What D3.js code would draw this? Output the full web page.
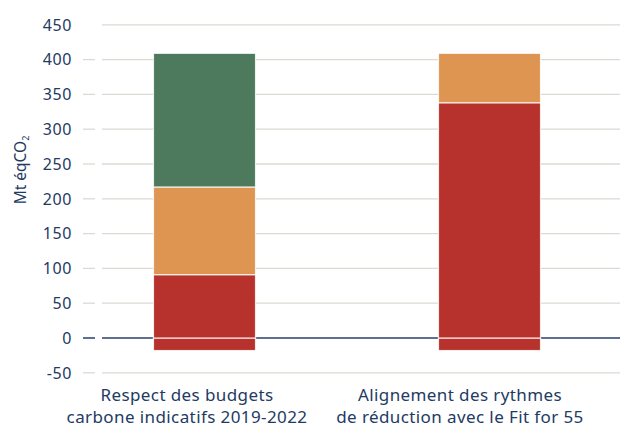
<!DOCTYPE html>
<html>
<head>
<meta charset="utf-8">
<script src="https://cdn.jsdelivr.net/npm/d3@7"></script>
<style>
	body { margin: 0; background: #fff; }
	text { font-family: "Noto Sans", "Open Sans", sans-serif; fill: #233a63; }
</style>
</head>
<body>
<svg id="chart" width="621" height="427"></svg>
<script>
// chart data
var categories = [
	['Respect des budgets', 'carbone indicatifs 2019-2022']
	, ['Alignement des rythmes', 'de réduction avec le Fit for 55']
]
var negativeRed = [-18, -18]
var redValues = [91, 338]
var orangeValues = [126, 71]
var greenValues = [192, 0]
var yTicks = [-50, 0, 50, 100, 150, 200, 250, 300, 350, 400, 450]

var colors = { red: '#b8322d', orange: '#de9551', green: '#4d7a5c' }

var svg = d3.select('#chart')
	, gridLeft = 102
	, gridRight = 620

var y = d3.scaleLinear()
	.domain([-50, 450])
	.range([372.8, 24.8])

var x = d3.scaleBand()
	.domain(d3.range(categories.length))
	.range([62, 632])
	.paddingInner(0.642)
	.paddingOuter(0.321)

// labels sit a bit left of the bars in the original
var xLabel = d3.scaleBand()
	.domain(d3.range(categories.length))
	.range([50.5, 596.5])

// gridlines + small ticks
yTicks.forEach(function(t) {
	var zero = t === 0
	svg.append('line')
		.attr('x1', gridLeft).attr('x2', gridRight)
		.attr('y1', y(t)).attr('y2', y(t))
		.attr('stroke', zero ? '#2a3f6b' : '#dcdad2')
		.attr('stroke-width', zero ? 1.5 : 1.3)
	if (t !== 450) {
		svg.append('line')
			.attr('x1', 83).attr('x2', 95)
			.attr('y1', y(t)).attr('y2', y(t))
			.attr('stroke', zero ? '#2a3f6b' : '#dcdad2')
			.attr('stroke-width', zero ? 1.5 : 1.3)
	}
	svg.append('text')
		.attr('x', 72)
		.attr('y', y(t))
		.attr('dy', '0.36em')
		.attr('text-anchor', 'end')
		.style('font-size', '16px')
		.style('letter-spacing', '0.6px')
		.text(t)
})

// stacked segments
var segments = []
categories.forEach(function(c, i) {
	segments.push({ i: i, y0: negativeRed[i], y1: 0, color: colors.red })
	var base = 0
	;[[redValues, colors.red], [orangeValues, colors.orange], [greenValues, colors.green]].forEach(function(s) {
		var v = s[0][i]
		if (v > 0) {
			segments.push({ i: i, y0: base, y1: base + v, color: s[1] })
			base += v
		}
	})
})

svg.selectAll('.seg').data(segments)
  .enter()
	.append('rect')
	.attr('class', 'seg')
	.attr('x', function(d) { return x(d.i) })
	.attr('width', x.bandwidth())
	.attr('y', function(d) { return y(d.y1) })
	.attr('height', function(d) { return y(d.y0) - y(d.y1) })
	.attr('fill', function(d) { return d.color })
	.attr('stroke', '#fff')
	.attr('stroke-opacity', 0.8)
	.attr('stroke-width', 1.2)

// category labels
categories.forEach(function(lines, i) {
	var t = svg.append('text')
		.attr('text-anchor', 'middle')
		.style('font-size', '17px')
		.style('letter-spacing', '0.4px')
	lines.forEach(function(l, k) {
		t.append('tspan')
			.attr('x', xLabel(i) + xLabel.bandwidth() / 2)
			.attr('y', 401 + k * 22)
			.text(l)
	})
})

// y axis title
var title = svg.append('text')
	.attr('transform', 'translate(26,' + 170 + ') rotate(-90)')
	.attr('text-anchor', 'middle')
	.style('font-size', '15.5px')
title.append('tspan').text('Mt éqCO')
title.append('tspan').attr('dy', 3).style('font-size', '9px').text('2')
</script>
</body>
</html>
